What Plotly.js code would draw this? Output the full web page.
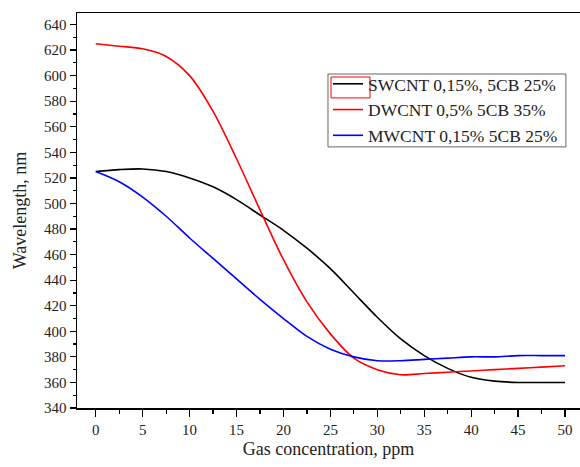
<!DOCTYPE html>
<html>
<head>
<meta charset="utf-8">
<script src="https://cdn.plot.ly/plotly-3.0.1.min.js"></script>
<style>html,body{margin:0;padding:0;background:#fff;}#chart{width:580px;height:467px;}</style>
</head>
<body>
<div id="chart"></div>
<script>
const concentration = [0, 2.5, 5, 7.5, 10, 12.5, 15, 17.5, 20, 22.5, 25, 27.5, 30, 32.5, 35, 37.5, 40, 42.5, 45, 47.5, 50];
const swcnt = [525, 526.5, 527, 525, 520, 513, 503, 491, 479, 465, 449, 430, 411, 394, 381, 371, 364, 361, 360, 360, 360];
const dwcnt = [625, 623, 621, 615, 600, 572, 535, 495, 456, 423, 398, 379, 370, 366, 367, 368, 369, 370, 371, 372, 373];
const mwcnt = [525, 517, 505, 490, 473, 457, 441, 425, 410, 396, 386, 380, 377, 377, 378, 379, 380, 380, 381, 381, 381];
const seriesNames = ["SWCNT 0,15%, 5CB 25%", "DWCNT 0,5% 5CB 35%", "MWCNT 0,15% 5CB 25%"];

const font = "Liberation Serif, Times New Roman, serif";
const mk = (y, name, color) => ({
  x: concentration, y: y, name: name, type: "scatter", mode: "lines",
  line: {color: color, width: 1.6, shape: "spline", smoothing: 0.9}
});
const data = [
  mk(swcnt, seriesNames[0], "#000000"),
  mk(dwcnt, seriesNames[1], "#ff0000"),
  mk(mwcnt, seriesNames[2], "#0000ff")
];
const layout = {
  width: 580, height: 467,
  margin: {l: 77, r: 0, t: 13, b: 59},
  paper_bgcolor: "#fff", plot_bgcolor: "#fff",
  font: {family: font, color: "#222", size: 15},
  showlegend: true,
  legend: {
    x: 0.499, y: 0.866, xanchor: "left", yanchor: "top",
    borderwidth: 0, bgcolor: "rgba(0,0,0,0)",
    font: {family: font, size: 17.5, color: "#222"},
    tracegroupgap: 0
  },
  shapes: [
    {type: "rect", xref: "paper", yref: "paper",
     x0: 0.499, x1: 0.972, y0: 0.661, y1: 0.8456,
     line: {color: "#666", width: 1}, fillcolor: "rgba(0,0,0,0)", layer: "above"},
    {type: "rect", xref: "paper", yref: "paper",
     x0: 0.505, x1: 0.5825, y0: 0.785, y1: 0.838,
     line: {color: "#ff0000", width: 1}, fillcolor: "rgba(0,0,0,0)", layer: "above"}
  ],
  xaxis: {
    range: [-2, 51.6], tick0: 0, dtick: 5,
    ticks: "outside", ticklen: 7, tickwidth: 1.2, tickcolor: "#000",
    minor: {dtick: 2.5, ticks: "outside", ticklen: 4, tickwidth: 1.2, tickcolor: "#000"},
    showline: true, linecolor: "#000", linewidth: 1.5, mirror: true,
    showgrid: false, zeroline: false,
    tickfont: {family: font, size: 15, color: "#222"},
    title: {text: "Gas concentration, ppm", font: {family: font, size: 18, color: "#222"}, standoff: 6}
  },
  yaxis: {
    range: [340, 649], tick0: 340, dtick: 20,
    ticks: "outside", ticklen: 6, tickwidth: 1.2, tickcolor: "#000",
    minor: {dtick: 10, ticks: "outside", ticklen: 3, tickwidth: 1.2, tickcolor: "#000"},
    showline: true, linecolor: "#000", linewidth: 1.5, mirror: false,
    showgrid: false, zeroline: false,
    tickfont: {family: font, size: 15, color: "#222"},
    title: {text: "Wavelength, nm", font: {family: font, size: 18, color: "#222"}, standoff: 12}
  }
};
Plotly.newPlot("chart", data, layout, {displayModeBar: false, staticPlot: true});
</script>
</body>
</html>
